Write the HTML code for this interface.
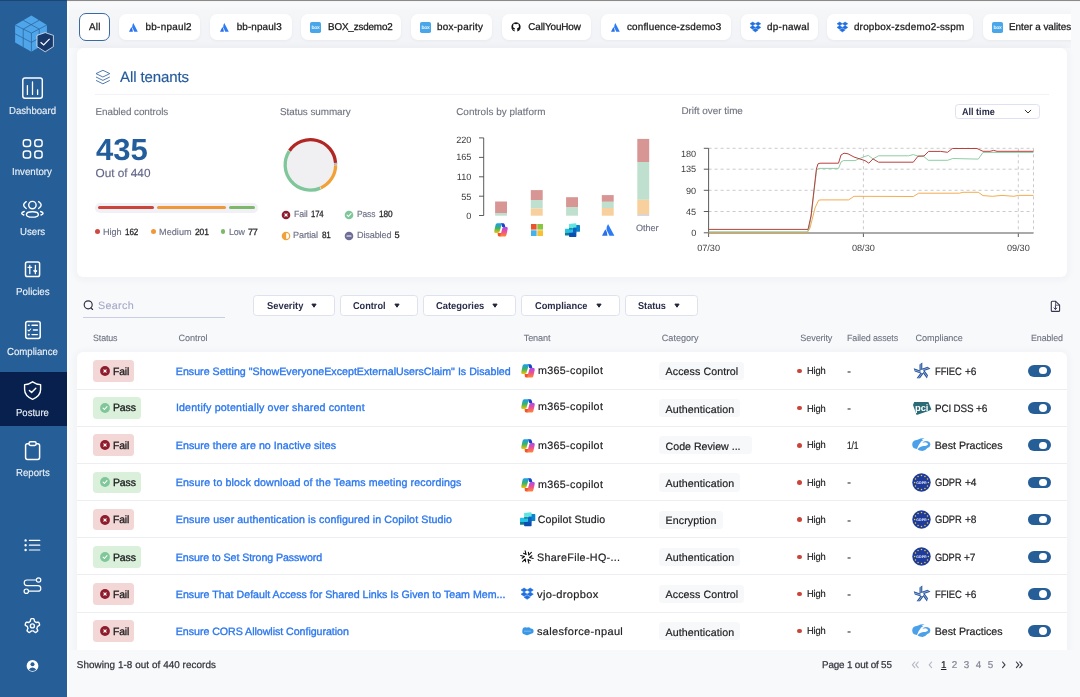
<!DOCTYPE html>
<html lang="en"><head><meta charset="utf-8"><title>Posture</title>
<style>
html,body{margin:0;padding:0}
body{width:1080px;height:697px;overflow:hidden;position:relative;background:#f8f9fb;font-family:"Liberation Sans",sans-serif;text-rendering:geometricPrecision;}
.a{position:absolute;box-sizing:border-box}
.t{position:absolute;white-space:nowrap}
svg{position:absolute;overflow:visible}
.tab{background:#fff;border-radius:7px;box-shadow:0 1px 3px rgba(30,40,80,.05)}
.card{background:#fff;box-shadow:0 1px 7px 2px rgba(30,40,80,.04)}
.fb{background:#fff;border:1px solid #e0e1ef;border-radius:3.5px}

</style></head>
<body>
<div class="a" style="left:69px;top:2px;width:1002px;height:46px;background:linear-gradient(#f9fafb 0%,#f5f6f8 22%,#f3f4f7 60%,#f3f4f7 100%)"></div>
<div class="a" style="left:0px;top:0px;width:67px;height:697px;background:#265e97;"></div>
<div class="a" style="left:67px;top:0px;width:2px;height:697px;background:#fbfcfd;"></div>
<div class="a" style="left:0px;top:372px;width:67px;height:54px;background:#07204e;"></div>
<div class="a" style="left:0px;top:0px;width:67px;height:1px;background:#1c456f;"></div>
<div class="a" style="left:67px;top:0px;width:1013px;height:1px;background:#8a8a8a;"></div>
<div class="a" style="left:67px;top:1px;width:1013px;height:1px;background:#f4f4f5;"></div>
<div class="t" style="top:107px;font-size:10.2px;line-height:10.2px;color:#f1f5fa;transform:scaleX(0.9428);transform-origin:0 0;left:8.95px;-webkit-text-stroke:0.1px currentColor;">Dashboard</div>
<div class="t" style="top:168px;font-size:10.2px;line-height:10.2px;color:#f1f5fa;transform:scaleX(0.9530);transform-origin:0 0;left:12.2px;-webkit-text-stroke:0.1px currentColor;">Inventory</div>
<div class="t" style="top:228px;font-size:10.2px;line-height:10.2px;color:#f1f5fa;transform:scaleX(0.9468);transform-origin:0 0;left:20.05px;-webkit-text-stroke:0.1px currentColor;">Users</div>
<div class="t" style="top:288px;font-size:10.2px;line-height:10.2px;color:#f1f5fa;transform:scaleX(0.9597);transform-origin:0 0;left:15.8px;-webkit-text-stroke:0.1px currentColor;">Policies</div>
<div class="t" style="top:348px;font-size:10.2px;line-height:10.2px;color:#f1f5fa;transform:scaleX(0.9459);transform-origin:0 0;left:7.0px;-webkit-text-stroke:0.1px currentColor;">Compliance</div>
<div class="t" style="top:409px;font-size:10.2px;line-height:10.2px;color:#f1f5fa;transform:scaleX(0.9367);transform-origin:0 0;left:16.0px;-webkit-text-stroke:0.1px currentColor;">Posture</div>
<div class="t" style="top:469px;font-size:10.2px;line-height:10.2px;color:#f1f5fa;transform:scaleX(0.9444);transform-origin:0 0;left:15.8px;-webkit-text-stroke:0.1px currentColor;">Reports</div>
<svg style="left:14px;top:14px" width="42" height="40" viewBox="14 14 42 40">
<polygon points="31.4,15.5 46.9,25 46.9,42.6 31.4,51.7 15.1,42.6 15.1,25" fill="#4fa5ea"/>
<g stroke="#265e97" stroke-width="0.7" fill="none">
<path d="M15.1 25 L31.4 33.1 L46.9 25 M31.4 33.1 V51.7"/>
<path d="M23.2 20.2 L39.2 29.1 V47.2 M39.2 20.2 L23.2 29.1 V47.2"/>
<path d="M15.1 33.8 L31.4 42.4 L46.9 33.8"/>
</g>
<path d="M45.2 32.6 L53.4 35.4 V46.6 L45.2 51.8 L37 46.6 V35.4 Z" fill="#17386a" stroke="#e8eef6" stroke-width="0.8"/>
<path d="M40.6 42.2 L43.7 45 L49.6 38.8" fill="none" stroke="#fff" stroke-width="1.2"/>
</svg>
<svg style="left:21px;top:77px" width="23" height="23" viewBox="21 77 23 23" fill="none" stroke="#fff" stroke-width="1.45" stroke-linecap="round">
<rect x="22.8" y="78" width="19.5" height="20.2" rx="2.2"/>
<path d="M27.4 85.6 V94.4 M32.5 82 V94.4 M37.6 89.8 V94.4" stroke-width="1.3"/>
</svg>
<svg style="left:21px;top:138px" width="23" height="23" viewBox="21 138 23 23" fill="none" stroke="#fff" stroke-width="1.45">
<rect x="23.3" y="139.8" width="7.3" height="6.7" rx="2.5"/>
<rect x="34.8" y="139.8" width="7.3" height="6.7" rx="2.5"/>
<rect x="23.3" y="151" width="7.3" height="6.9" rx="2.5"/>
<rect x="34.8" y="151" width="7.3" height="6.9" rx="2.5"/>
</svg>
<svg style="left:20px;top:199px" width="25" height="20" viewBox="20 199 25 20" fill="none" stroke="#fff" stroke-width="1.4" stroke-linecap="round">
<circle cx="32.4" cy="205.1" r="3.7"/>
<ellipse cx="32.4" cy="214.4" rx="6" ry="2.7"/>
<path d="M26.2 201.7 Q21 205.1 26.2 208.5"/>
<path d="M38.6 201.7 Q43.8 205.1 38.6 208.5"/>
<path d="M24.2 211.5 Q19.4 213.2 23.8 215"/>
<path d="M40.6 211.5 Q45.4 213.2 41 215"/>
</svg>
<svg style="left:24px;top:260px" width="18" height="18" viewBox="24 260 18 18" fill="none" stroke="#fff" stroke-width="1.5" stroke-linecap="round" stroke-linejoin="round">
<rect x="25.5" y="262" width="14.1" height="14.5" rx="1.8"/>
<path d="M29.8 265.4 V273.7 M28 267.3 H31.6" stroke-width="1.3"/>
<path d="M35.4 265.4 V273.7" stroke-width="1.3"/>
<path d="M33.7 271 L35.4 272.4 L37.1 271 L35.4 270.2 Z" fill="#fff" stroke-width="0.9"/>
</svg>
<svg style="left:24px;top:320px" width="18" height="20" viewBox="24 320 18 20" fill="none" stroke="#fff" stroke-width="1.5" stroke-linecap="round" stroke-linejoin="round">
<rect x="25.7" y="321.4" width="14.5" height="17" rx="1.9"/>
<path d="M32 325.2 H37.4 M33.4 330 H37.4 M32 334.6 H37.4" stroke-width="1.4"/>
<path d="M28.5 325.2 H29.1 M28.5 334.6 H29.1" stroke-width="1.6"/>
<path d="M28 330.1 L29 331 L30.7 329" stroke-width="1.1"/>
</svg>
<svg style="left:23px;top:380px" width="20" height="21" viewBox="23 380 20 21" fill="none" stroke="#fff" stroke-width="1.4" stroke-linecap="round" stroke-linejoin="round">
<path d="M32.6 381.8 Q36.4 384.4 40.6 384.6 V389.6 Q40.6 396 32.6 399.4 Q24.6 396 24.6 389.6 V384.6 Q28.8 384.4 32.6 381.8 Z"/>
<path d="M29.4 390.4 L31.6 392.6 L35.8 388.2"/>
</svg>
<svg style="left:24px;top:440px" width="18" height="21" viewBox="24 440 18 21" fill="none" stroke="#fff" stroke-width="1.5" stroke-linejoin="round">
<path d="M29 443.8 H27.4 Q25.6 443.8 25.6 445.6 V457.6 Q25.6 459.4 27.4 459.4 H37.8 Q39.6 459.4 39.6 457.6 V445.6 Q39.6 443.8 37.8 443.8 H36.2"/>
<rect x="29" y="441.8" width="7.2" height="3.6" rx="1.6"/>
</svg>
<svg style="left:24px;top:538px" width="18" height="14" viewBox="24 538 18 14" fill="#fff" stroke="#fff" stroke-width="1.2" stroke-linecap="round">
<path d="M29.4 540.4 H39.8 M29.4 545.2 H39.8 M29.4 550 H39.8"/>
<circle cx="25.6" cy="540.4" r="0.6"/><circle cx="25.6" cy="545.2" r="0.6"/><circle cx="25.6" cy="550" r="0.6"/>
</svg>
<svg style="left:23px;top:576px" width="20" height="19" viewBox="23 576 20 19" fill="none" stroke="#fff" stroke-width="1.2" stroke-linecap="round">
<circle cx="38.6" cy="580" r="2.2"/>
<circle cx="26.3" cy="591.2" r="2.2"/>
<path d="M36.4 580 H27 A2.8 2.8 0 0 0 27 585.6 H38 A2.8 2.8 0 0 1 38 591.2 H28.5"/>
</svg>
<svg style="left:24px;top:617px" width="18" height="18" viewBox="24 617 18 18" fill="none" stroke="#fff" stroke-width="1.4" stroke-linejoin="round">
<path d="M32.40 618.60 L33.16 618.64 L33.89 618.87 L34.30 620.05 L34.48 621.23 L34.90 621.57 L35.34 621.85 L35.75 622.18 L36.20 622.48 L37.38 622.29 L38.62 622.31 L39.07 622.93 L39.34 623.64 L39.54 624.38 L39.55 625.15 L38.55 625.90 L37.49 626.43 L37.29 626.94 L37.16 627.45 L36.97 627.93 L36.83 628.46 L37.38 629.51 L37.74 630.71 L37.28 631.32 L36.69 631.81 L36.05 632.22 L35.32 632.46 L34.30 631.75 L33.46 630.90 L32.92 630.87 L32.40 630.90 L31.88 630.87 L31.34 630.90 L30.50 631.75 L29.48 632.46 L28.75 632.22 L28.11 631.81 L27.52 631.32 L27.06 630.71 L27.42 629.51 L27.97 628.46 L27.83 627.93 L27.64 627.45 L27.51 626.94 L27.31 626.43 L26.25 625.90 L25.25 625.15 L25.26 624.38 L25.46 623.64 L25.73 622.93 L26.18 622.31 L27.42 622.29 L28.60 622.48 L29.05 622.18 L29.46 621.85 L29.90 621.57 L30.32 621.23 L30.50 620.05 L30.91 618.87 L31.64 618.64 Z"/>
<circle cx="32.4" cy="625.9" r="2"/>
</svg>
<svg style="left:26px;top:659px" width="14" height="14" viewBox="26 659 14 14">
<circle cx="32.5" cy="665.9" r="5.9" fill="#fff"/>
<circle cx="32.5" cy="664.2" r="2" fill="#265e97"/>
<path d="M28.8 669.4 Q32.5 665.4 36.2 669.4 Q32.5 672.6 28.8 669.4 Z" fill="#265e97"/>
</svg>
<div class="a" style="left:79px;top:13.4px;width:31.200000000000003px;height:27.2px;background:#fff;border-radius:7px;border:1px solid #3a6aa5;"></div>
<div class="t" style="top:23px;font-size:9.9px;line-height:9.9px;color:#1c1c1e;letter-spacing:0.160px;left:89.1px;-webkit-text-stroke:0.28px currentColor;">All</div>
<div class="a tab" style="left:119px;top:14px;width:81.4px;height:26px"></div>
<svg style="left:129.1px;top:22.75px" width="8.8" height="8.7" viewBox="0 0 8.8 8.7">
<path d="M4.3 0 L8.8 8.7 H5.3 L3.2 4.2 Q3.0 2.2 4.3 0 Z" fill="#2b7bf5"/>
<path d="M2.4 3.9 Q3.9 6 3.9 8.7 H0 Z" fill="#2a6fe6"/>
</svg>
<div class="t" style="top:23px;font-size:9.9px;line-height:9.9px;color:#1c1c1e;letter-spacing:0.258px;left:145.6px;-webkit-text-stroke:0.28px currentColor;">bb-npaul2</div>
<div class="a tab" style="left:210px;top:14px;width:81.80000000000001px;height:26px"></div>
<svg style="left:220.2px;top:22.75px" width="8.8" height="8.7" viewBox="0 0 8.8 8.7">
<path d="M4.3 0 L8.8 8.7 H5.3 L3.2 4.2 Q3.0 2.2 4.3 0 Z" fill="#2b7bf5"/>
<path d="M2.4 3.9 Q3.9 6 3.9 8.7 H0 Z" fill="#2a6fe6"/>
</svg>
<div class="t" style="top:23px;font-size:9.9px;line-height:9.9px;color:#1c1c1e;letter-spacing:0.133px;left:236.7px;-webkit-text-stroke:0.28px currentColor;">bb-npaul3</div>
<div class="a tab" style="left:301px;top:14px;width:100.19999999999999px;height:26px"></div>
<svg style="left:310.3px;top:21.5px" width="11" height="11" viewBox="0 0 11 11">
<rect width="11" height="11" rx="1.8" fill="#48a6e9"/>
<text x="5.5" y="7.1" font-family="Liberation Sans, sans-serif" font-size="5" font-weight="700" fill="#e9f4fc" text-anchor="middle" letter-spacing="-0.3">box</text>
</svg>
<div class="t" style="top:23px;font-size:9.9px;line-height:9.9px;color:#1c1c1e;letter-spacing:-0.148px;transform:scaleX(0.9963);transform-origin:0 0;left:327.5px;-webkit-text-stroke:0.28px currentColor;">BOX_zsdemo2</div>
<div class="a tab" style="left:411px;top:14px;width:81.30000000000001px;height:26px"></div>
<svg style="left:420px;top:21.5px" width="11" height="11" viewBox="0 0 11 11">
<rect width="11" height="11" rx="1.8" fill="#48a6e9"/>
<text x="5.5" y="7.1" font-family="Liberation Sans, sans-serif" font-size="5" font-weight="700" fill="#e9f4fc" text-anchor="middle" letter-spacing="-0.3">box</text>
</svg>
<div class="t" style="top:23px;font-size:9.9px;line-height:9.9px;color:#1c1c1e;letter-spacing:0.287px;left:437.0px;-webkit-text-stroke:0.28px currentColor;">box-parity</div>
<div class="a tab" style="left:502px;top:14px;width:89px;height:26px"></div>
<svg style="left:511.29999999999995px;top:21.9px" width="10" height="10" viewBox="-5 -5 10 10">
<path d="M-1.3 4.5 A4.7 4.7 0 1 1 1.3 4.5 V2.6 Q1.3 1.9 0.9 1.6 Q3 1.3 3 -0.7 Q3 -1.5 2.5 -2.1 Q2.7 -2.8 2.4 -3.4 Q1.7 -3.4 1.0 -2.8 Q0 -3.05 -1.0 -2.8 Q-1.7 -3.4 -2.4 -3.4 Q-2.7 -2.8 -2.5 -2.1 Q-3 -1.5 -3 -0.7 Q-3 1.3 -0.9 1.6 Q-1.3 1.9 -1.3 2.5 Q-2.4 2.9 -2.9 1.9 Q-3.2 1.5 -3.5 1.5 Q-3.1 1.9 -2.9 2.6 Q-2.5 3.5 -1.3 3.3 Z" fill="#111"/>
</svg>
<div class="t" style="top:23px;font-size:9.9px;line-height:9.9px;color:#1c1c1e;letter-spacing:-0.100px;left:528.3px;-webkit-text-stroke:0.28px currentColor;">CallYouHow</div>
<div class="a tab" style="left:600.6px;top:14px;width:130.60000000000002px;height:26px"></div>
<svg style="left:610.7px;top:22.75px" width="8.8" height="8.7" viewBox="0 0 8.8 8.7">
<path d="M4.3 0 L8.8 8.7 H5.3 L3.2 4.2 Q3.0 2.2 4.3 0 Z" fill="#2b7bf5"/>
<path d="M2.4 3.9 Q3.9 6 3.9 8.7 H0 Z" fill="#2a6fe6"/>
</svg>
<div class="t" style="top:23px;font-size:9.9px;line-height:9.9px;color:#1c1c1e;letter-spacing:0.192px;left:626.9px;-webkit-text-stroke:0.28px currentColor;">confluence-zsdemo3</div>
<div class="a tab" style="left:740.8px;top:14px;width:77.20000000000005px;height:26px"></div>
<svg style="left:749.70px;top:21.85px" width="10.80" height="10.30" viewBox="0 0 10.8 10.3" fill="#1f6fe0">
<path d="M2.7 0 L5.4 1.8 L2.7 3.6 L0 1.8 Z M8.1 0 L10.8 1.8 L8.1 3.6 L5.4 1.8 Z M2.7 3.6 L5.4 5.4 L2.7 7.2 L0 5.4 Z M8.1 3.6 L10.8 5.4 L8.1 7.2 L5.4 5.4 Z M5.4 6.3 L8.1 8.1 L5.4 9.9 L2.7 8.1 Z" stroke="#1f6fe0" stroke-width="0.5" stroke-linejoin="round"/>
</svg>
<div class="t" style="top:23px;font-size:9.9px;line-height:9.9px;color:#1c1c1e;letter-spacing:0.297px;transform:scaleX(1.0010);transform-origin:0 0;left:766.9px;-webkit-text-stroke:0.28px currentColor;">dp-nawal</div>
<div class="a tab" style="left:827.3px;top:14px;width:146.0px;height:26px"></div>
<svg style="left:836.50px;top:21.85px" width="10.80" height="10.30" viewBox="0 0 10.8 10.3" fill="#1f6fe0">
<path d="M2.7 0 L5.4 1.8 L2.7 3.6 L0 1.8 Z M8.1 0 L10.8 1.8 L8.1 3.6 L5.4 1.8 Z M2.7 3.6 L5.4 5.4 L2.7 7.2 L0 5.4 Z M8.1 3.6 L10.8 5.4 L8.1 7.2 L5.4 5.4 Z M5.4 6.3 L8.1 8.1 L5.4 9.9 L2.7 8.1 Z" stroke="#1f6fe0" stroke-width="0.5" stroke-linejoin="round"/>
</svg>
<div class="t" style="top:23px;font-size:9.9px;line-height:9.9px;color:#1c1c1e;letter-spacing:0.232px;left:853.9px;-webkit-text-stroke:0.28px currentColor;">dropbox-zsdemo2-sspm</div>
<div class="a" style="left:975px;top:8px;width:96px;height:38px;overflow:hidden">
<div class="a tab" style="left:7.8px;top:6px;width:120px;height:26px"></div>
<svg style="left:16.6px;top:13.5px" width="11" height="11" viewBox="0 0 11 11">
<rect width="11" height="11" rx="1.8" fill="#48a6e9"/>
<text x="5.5" y="7.1" font-family="Liberation Sans, sans-serif" font-size="5" font-weight="700" fill="#e9f4fc" text-anchor="middle" letter-spacing="-0.3">box</text>
</svg>
<div class="t" style="top:15px;font-size:9.9px;line-height:9.9px;color:#1c1c1e;letter-spacing:-0.024px;left:34.0px;-webkit-text-stroke:0.28px currentColor;">Enter a valites</div>
</div>
<div class="a card" style="left:77px;top:48px;width:990.4px;height:229px;border-radius:6px"></div>
<svg style="left:95px;top:69px" width="16" height="16" viewBox="95 69 16 16" fill="none" stroke="#3d6ca8" stroke-width="0.9" stroke-linejoin="round">
<path d="M102.9 70.3 L109.8 73.6 L102.9 77 L96 73.6 Z"/>
<path d="M96 77 L102.9 80.4 L109.8 77"/>
<path d="M96 80.4 L102.9 83.8 L109.8 80.4"/>
</svg>
<div class="t" style="top:70px;font-size:15px;line-height:15px;color:#245a9a;letter-spacing:-0.114px;left:120.1px;-webkit-text-stroke:0.15px currentColor;">All tenants</div>
<div class="a" style="left:95px;top:93.8px;width:954px;height:1.2px;background:#f1f2f5;"></div>
<div class="t" style="top:108px;font-size:9.9px;line-height:9.9px;color:#70737f;letter-spacing:-0.055px;left:95.5px;-webkit-text-stroke:0.12px currentColor;">Enabled controls</div>
<div class="t" style="top:108px;font-size:9.9px;line-height:9.9px;color:#70737f;letter-spacing:-0.046px;left:280.0px;-webkit-text-stroke:0.12px currentColor;">Status summary</div>
<div class="t" style="top:108px;font-size:9.9px;line-height:9.9px;color:#70737f;letter-spacing:0.051px;left:456.2px;-webkit-text-stroke:0.12px currentColor;">Controls by platform</div>
<div class="t" style="top:107px;font-size:9.9px;line-height:9.9px;color:#70737f;left:681.4px;-webkit-text-stroke:0.12px currentColor;">Drift over time</div>
<div class="t" style="top:135px;font-size:30.4px;line-height:30.4px;color:#245d9b;font-weight:700;transform:scaleX(1.0235);transform-origin:0 0;left:96.2px;">435</div>
<div class="t" style="top:168px;font-size:11.8px;line-height:11.8px;color:#626588;letter-spacing:-0.014px;left:95.5px;-webkit-text-stroke:0.12px currentColor;">Out of 440</div>
<div class="a" style="left:95.1px;top:203.1px;width:163px;height:9.7px;background:#f0f0f6;border-radius:5px;"></div>
<div class="a" style="left:97.9px;top:206.4px;width:55.8px;height:3px;background:#c9453a;border-radius:2px;"></div>
<div class="a" style="left:156.8px;top:206.4px;width:68.9px;height:3px;background:#f0973a;border-radius:2px;"></div>
<div class="a" style="left:228.9px;top:206.4px;width:26.2px;height:3px;background:#7cb868;border-radius:2px;"></div>
<div class="a" style="left:95.0px;top:229.0px;width:4.8px;height:4.8px;background:#cc4a40;border-radius:3px;"></div>
<div class="t" style="top:228px;font-size:9.15px;line-height:9.15px;color:#6d7085;letter-spacing:-0.097px;left:103.0px;-webkit-text-stroke:0.15px currentColor;">High</div>
<div class="t" style="top:228px;font-size:9.15px;line-height:9.15px;color:#2a2a2e;letter-spacing:-0.137px;transform:scaleX(0.8874);transform-origin:0 0;left:125.0px;-webkit-text-stroke:0.3px currentColor;">162</div>
<div class="a" style="left:150.9px;top:229.0px;width:4.8px;height:4.8px;background:#f0973a;border-radius:3px;"></div>
<div class="t" style="top:228px;font-size:9.15px;line-height:9.15px;color:#6d7085;letter-spacing:0.029px;left:159.0px;-webkit-text-stroke:0.15px currentColor;">Medium</div>
<div class="t" style="top:228px;font-size:9.15px;line-height:9.15px;color:#2a2a2e;letter-spacing:-0.137px;transform:scaleX(0.9277);transform-origin:0 0;left:194.6px;-webkit-text-stroke:0.3px currentColor;">201</div>
<div class="a" style="left:220.6px;top:229.0px;width:4.8px;height:4.8px;background:#7cb868;border-radius:3px;"></div>
<div class="t" style="top:228px;font-size:9.15px;line-height:9.15px;color:#6d7085;letter-spacing:-0.137px;transform:scaleX(0.9718);transform-origin:0 0;left:228.6px;-webkit-text-stroke:0.15px currentColor;">Low</div>
<div class="t" style="top:228px;font-size:9.15px;line-height:9.15px;color:#2a2a2e;letter-spacing:-0.137px;transform:scaleX(0.9861);transform-origin:0 0;left:248.2px;-webkit-text-stroke:0.3px currentColor;">77</div>
<svg style="left:280px;top:135px" width="60" height="60" viewBox="280 135 60 60"><circle cx="310.4" cy="164.9" r="24.4" fill="#f0f0f3"/><path d="M335.65 165.16 A25.25 25.25 0 0 1 320.80 187.91" stroke="#f0a238" stroke-width="3.3" fill="none"/><path d="M320.32 188.12 A25.25 25.25 0 0 1 289.21 151.17" stroke="#7fc79a" stroke-width="3.3" fill="none"/><path d="M289.50 150.73 A25.25 25.25 0 0 1 335.57 162.84" stroke="#b02723" stroke-width="3.3" fill="none"/><path d="M335.60 163.36 A25.25 25.25 0 0 1 335.65 164.64" stroke="#8d8fb0" stroke-width="3.3" fill="none"/></svg>
<svg style="left:280.7px;top:209.5px" width="10" height="10" viewBox="-5 -5 10 10"><circle r="4.3" fill="#8e1c2c"/><path d="M-1.15 -1.15 L1.15 1.15 M1.15 -1.15 L-1.15 1.15" stroke="#fff" stroke-width="1.15" stroke-linecap="round"/></svg>
<div class="t" style="top:210px;font-size:9.15px;line-height:9.15px;color:#6d7085;letter-spacing:-0.137px;transform:scaleX(0.9674);transform-origin:0 0;left:293.6px;-webkit-text-stroke:0.15px currentColor;">Fail</div>
<div class="t" style="top:210px;font-size:9.15px;line-height:9.15px;color:#2a2a2e;letter-spacing:-0.137px;transform:scaleX(0.8470);transform-origin:0 0;left:311.0px;-webkit-text-stroke:0.3px currentColor;">174</div>
<svg style="left:343.8px;top:209.5px" width="10" height="10" viewBox="-5 -5 10 10"><circle r="4.3" fill="#7fc79a"/><path d="M-1.9 0.1 L-0.6 1.5 L2 -1.3" stroke="#fff" stroke-width="1.1" fill="none" stroke-linecap="round" stroke-linejoin="round"/></svg>
<div class="t" style="top:210px;font-size:9.15px;line-height:9.15px;color:#6d7085;letter-spacing:-0.137px;transform:scaleX(0.9256);transform-origin:0 0;left:356.6px;-webkit-text-stroke:0.15px currentColor;">Pass</div>
<div class="t" style="top:210px;font-size:9.15px;line-height:9.15px;color:#2a2a2e;letter-spacing:-0.137px;transform:scaleX(0.9075);transform-origin:0 0;left:379.0px;-webkit-text-stroke:0.3px currentColor;">180</div>
<svg style="left:280.5px;top:230.7px" width="10" height="10" viewBox="-5 -5 10 10"><circle r="4.3" fill="#f0a238"/><path d="M0.2 -2.9 A2.9 2.9 0 0 1 0.2 2.9 Z" fill="#fff"/></svg>
<div class="t" style="top:231px;font-size:9.15px;line-height:9.15px;color:#6d7085;letter-spacing:-0.137px;transform:scaleX(0.9994);transform-origin:0 0;left:293.0px;-webkit-text-stroke:0.15px currentColor;">Partial</div>
<div class="t" style="top:231px;font-size:9.15px;line-height:9.15px;color:#2a2a2e;letter-spacing:-0.137px;transform:scaleX(0.8855);transform-origin:0 0;left:321.6px;-webkit-text-stroke:0.3px currentColor;">81</div>
<svg style="left:343.8px;top:230.7px" width="10" height="10" viewBox="-5 -5 10 10"><circle r="4.3" fill="#6f6d97"/><path d="M-2 0 H2" stroke="#fff" stroke-width="1.2" stroke-linecap="round"/></svg>
<div class="t" style="top:231px;font-size:9.15px;line-height:9.15px;color:#6d7085;letter-spacing:-0.137px;transform:scaleX(0.9979);transform-origin:0 0;left:356.6px;-webkit-text-stroke:0.15px currentColor;">Disabled</div>
<div class="t" style="top:231px;font-size:9.15px;line-height:9.15px;color:#2a2a2e;left:394.6px;-webkit-text-stroke:0.3px currentColor;">5</div>
<svg style="left:450px;top:130px" width="220" height="115" viewBox="450 130 220 115"><path d="M483.7 137.9 V215.6 M479 137.9 H483.7 M479 157.4 H483.7 M479 176.8 H483.7 M479 196.2 H483.7 M479 215.5 H483.7" stroke="#4a4a4a" stroke-width="0.9" fill="none"/><rect x="495.1" y="201.5" width="11.9" height="11.50" fill="#d79593"/><rect x="495.1" y="213" width="11.9" height="2.70" fill="#bfe0ce"/><rect x="530.8" y="190.1" width="11.9" height="9.90" fill="#d79593"/><rect x="530.8" y="200" width="11.9" height="8.50" fill="#bfe0ce"/><rect x="530.8" y="208.5" width="11.9" height="7.20" fill="#f8d09d"/><rect x="566.1" y="197.2" width="11.9" height="9.80" fill="#d79593"/><rect x="566.1" y="207" width="11.9" height="8.70" fill="#bfe0ce"/><rect x="601.8" y="195.1" width="11.9" height="6.70" fill="#d79593"/><rect x="601.8" y="201.8" width="11.9" height="6.20" fill="#bfe0ce"/><rect x="601.8" y="208" width="11.9" height="7.70" fill="#f8d09d"/><rect x="637.3" y="138.9" width="11.9" height="23.10" fill="#d79593"/><rect x="637.3" y="162" width="11.9" height="37.80" fill="#bfe0ce"/><rect x="637.3" y="199.8" width="11.9" height="14.60" fill="#f8d09d"/><rect x="637.3" y="214.4" width="11.9" height="1.30" fill="#c6c6ce"/></svg>
<div class="t" style="top:136px;font-size:9.15px;line-height:9.15px;color:#3c3c40;right:608.6px;">220</div>
<div class="t" style="top:153px;font-size:9.15px;line-height:9.15px;color:#3c3c40;right:608.6px;">165</div>
<div class="t" style="top:173px;font-size:9.15px;line-height:9.15px;color:#3c3c40;right:608.6px;">110</div>
<div class="t" style="top:193px;font-size:9.15px;line-height:9.15px;color:#3c3c40;right:608.6px;">55</div>
<div class="t" style="top:212px;font-size:9.15px;line-height:9.15px;color:#3c3c40;right:608.6px;">0</div>
<div class="t" style="top:224px;font-size:9.15px;line-height:9.15px;color:#6d7085;letter-spacing:-0.096px;left:636.0px;-webkit-text-stroke:0.15px currentColor;">Other</div>
<svg style="left:494.00px;top:222.70px" width="14" height="14" viewBox="0 0 14 14">
<defs><linearGradient id="cpa1" x1="0" y1="0" x2="0" y2="1"><stop offset="0" stop-color="#1d9cf3"/><stop offset="0.5" stop-color="#36b36a"/><stop offset="1" stop-color="#f2c300"/></linearGradient>
<linearGradient id="cpb1" x1="0" y1="0" x2="0" y2="1"><stop offset="0" stop-color="#a64cf0"/><stop offset="0.5" stop-color="#ee5091"/><stop offset="1" stop-color="#ff8a2a"/></linearGradient></defs>
<path d="M6.6 0.3 H9.2 Q10.2 0.3 10.6 1.3 L11.4 4 H8.2 L7.4 1.4 Z" fill="#1745c8"/>
<path d="M3.2 0.3 H7 Q8 0.3 7.6 1.6 L5.6 8.6 Q5.2 9.9 4 9.9 H1.4 Q-0.1 9.9 0.3 8 L1.6 1.8 Q2 0.3 3.2 0.3 Z" fill="url(#cpa1)"/>
<path d="M3.6 9.9 H7 L7.6 12.6 Q7.4 13.6 6.4 13.6 H5.2 Q4.2 13.6 3.9 12.6 Z" fill="#f2542a"/>
<path d="M9.6 4 H12.6 Q14.1 4 13.7 5.9 L12.4 12.1 Q12 13.6 10.8 13.6 H7 Q6 13.6 6.4 12.3 L8.4 5.3 Q8.8 4 9.6 4 Z" fill="url(#cpb1)"/>
</svg>
<svg style="left:530.80px;top:223.50px" width="12" height="12" viewBox="0 0 12 12">
<rect x="0" y="0" width="5.6" height="5.6" fill="#e9542c"/><rect x="6.3" y="0" width="5.7" height="5.6" fill="#8cc540"/>
<rect x="0" y="6.3" width="5.6" height="5.7" fill="#47b1e9"/><rect x="6.3" y="6.3" width="5.7" height="5.7" fill="#f8c133"/></svg>
<svg style="left:564.90px;top:222.64px" width="15" height="14.12" viewBox="0 0 15.3 14.4">
<rect x="0" y="9.4" width="5" height="3.4" rx="0.6" fill="#0f7c95"/>
<rect x="8.4" y="2" width="6.9" height="7" rx="0.7" fill="#0a83cd"/>
<rect x="4.1" y="9.2" width="7.5" height="5" rx="0.7" fill="#0a4fb0"/>
<rect x="7.6" y="5.2" width="4" height="5" fill="#0b62c0"/>
<rect x="0" y="5.8" width="7.8" height="4.2" rx="0.6" fill="#22c2e6"/>
<rect x="4.1" y="4.6" width="3.8" height="2.2" fill="#1493a8"/>
<path d="M4.1 0.9 L11 0.2 Q11.6 0.2 11.6 0.9 V4.6 H4.1 Z" fill="#5fe6e0"/>
</svg>
<svg style="left:601.80px;top:223.70px" width="12.4" height="11.8" viewBox="0 0 8.8 8.7" preserveAspectRatio="none">
<path d="M4.3 0 L8.8 8.7 H5.3 L3.2 4.2 Q3.0 2.2 4.3 0 Z" fill="#2b7bf5"/>
<path d="M2.4 3.9 Q3.9 6 3.9 8.7 H0 Z" fill="#2a6fe6"/>
</svg>
<svg style="left:700px;top:140px" width="340" height="100" viewBox="700 140 340 100" fill="none"><g stroke="#bdbdbd" stroke-width="0.8" stroke-dasharray="3 3"><path d="M708.6 148.3 H1033.5"/><path d="M708.6 169.2 H1033.5"/><path d="M708.6 190.3 H1033.5"/><path d="M708.6 211.5 H1033.5"/><path d="M863.4 148.3 V232.8"/><path d="M1018.3 148.3 V232.8"/><path d="M1033.5 148.3 V232.8"/></g><path d="M708.6 148.3 V237 M703.8 148.3 H708.6 M703.8 169.2 H708.6 M703.8 190.3 H708.6 M703.8 211.5 H708.6 M703.8 232.8 H708.6 M863.4 232.8 V237 M1018.3 232.8 V237" stroke="#4a4a4a" stroke-width="0.9"/><path d="M708.6 233 H1033.5" stroke="#8e8e8e" stroke-width="1.7"/><polyline points="708.6,233 807,233 810,228 815,208 818.6,200.2 821,199.9 848.7,199.9 854,196.3 913.3,196.5 918.7,193.2 959.4,193.2 963,192.3 978.3,192.3 983,195.6 992.5,196.3 1002,195.4 1013.8,196.3 1018.6,195.4 1033.5,195.4" stroke="#f2a33c" stroke-width="0.9" stroke-linejoin="round"/><polyline points="708.6,231.8 807,231.8 809,229 811.2,216 816.6,170 818.4,168.5 820,168.4 838.5,168.4 841,162 843.5,160.6 855,160.6 860,158.4 865,156.4 868.3,155.4 873,158.9 878.5,155.8 908.5,155.8 913.3,154.6 918,156.1 923.4,156.1 928.2,160.3 947.6,160.3 952.8,158.5 978.3,159.1 983,152.4 1033.5,152.4" stroke="#82c79b" stroke-width="0.9" stroke-linejoin="round"/><polyline points="708.6,229.4 808,229.4 811,216 816.4,169 818,163.8 820,163.2 838.5,163.2 841,155 844,153.2 848,153.8 854,157 860,159 865,160.6 868.8,163.2 873,158.9 878.5,162.2 913.3,162.2 918,156.2 924,156 928.6,151.4 940.5,151.4 947.6,152.3 952.3,148.5 977,148.5 983,151.3 990,151.3 993.7,150.4 997,151.3 1033.5,151.3" stroke="#b9403d" stroke-width="1.0" stroke-linejoin="round"/></svg>
<div class="t" style="top:150px;font-size:9.15px;line-height:9.15px;color:#3c3c40;right:383.8px;">180</div>
<div class="t" style="top:165px;font-size:9.15px;line-height:9.15px;color:#3c3c40;right:383.8px;">135</div>
<div class="t" style="top:187px;font-size:9.15px;line-height:9.15px;color:#3c3c40;right:383.8px;">90</div>
<div class="t" style="top:208px;font-size:9.15px;line-height:9.15px;color:#3c3c40;right:383.8px;">45</div>
<div class="t" style="top:229px;font-size:9.15px;line-height:9.15px;color:#3c3c40;right:383.8px;">0</div>
<div class="t" style="top:244px;font-size:9.15px;line-height:9.15px;color:#3c3c40;left:508.6px;width:400px;text-align:center;">07/30</div>
<div class="t" style="top:244px;font-size:9.15px;line-height:9.15px;color:#3c3c40;left:663.4px;width:400px;text-align:center;">08/30</div>
<div class="t" style="top:244px;font-size:9.15px;line-height:9.15px;color:#3c3c40;left:818.3px;width:400px;text-align:center;">09/30</div>
<div class="a" style="left:954.6px;top:104px;width:85px;height:15px;background:#fff;border-radius:3.5px;border:1px solid #dfe0f2;"></div>
<div class="t" style="top:108px;font-size:9.9px;line-height:9.9px;color:#2a2e4a;font-weight:700;transform:scaleX(0.9178);transform-origin:0 0;left:961.6px;">All time</div>
<svg style="left:1022px;top:106px" width="12" height="12" viewBox="1022 106 12 12"><path d="M1025.2 110.2 L1028 113 L1030.8 110.2" fill="none" stroke="#333" stroke-width="1" stroke-linecap="round" stroke-linejoin="round"/></svg>
<svg style="left:82px;top:299px" width="13" height="13" viewBox="82 299 13 13" fill="none" stroke="#2d2f45" stroke-width="1.15" stroke-linecap="round"><circle cx="88.2" cy="304.8" r="4"/><path d="M91 307.8 L92.6 309.5"/></svg>
<div class="t" style="top:301px;font-size:10.65px;line-height:10.65px;color:#a6a9c9;letter-spacing:0.320px;transform:scaleX(1.0115);transform-origin:0 0;left:98.4px;-webkit-text-stroke:0.1px currentColor;">Search</div>
<div class="a" style="left:82.8px;top:316.8px;width:142.4px;height:1.3px;background:#cbcde2;"></div>
<div class="a fb" style="left:253.3px;top:295.2px;width:81.7px;height:21px"></div>
<div class="t" style="top:302px;font-size:9.9px;line-height:9.9px;color:#2a2e4a;font-weight:700;transform:scaleX(0.9477);transform-origin:0 0;left:266.5px;">Severity</div>
<svg style="left:311.1px;top:303.4px" width="6" height="5" viewBox="0 0 6 5"><path d="M0.9 1.1 H5.1 L3 4.2 Z" fill="#222638" stroke="#222638" stroke-width="1" stroke-linejoin="round"/></svg>
<div class="a fb" style="left:340.4px;top:295.2px;width:77.4px;height:21px"></div>
<div class="t" style="top:302px;font-size:9.9px;line-height:9.9px;color:#2a2e4a;font-weight:700;transform:scaleX(0.9276);transform-origin:0 0;left:353.2px;">Control</div>
<svg style="left:394.2px;top:303.4px" width="6" height="5" viewBox="0 0 6 5"><path d="M0.9 1.1 H5.1 L3 4.2 Z" fill="#222638" stroke="#222638" stroke-width="1" stroke-linejoin="round"/></svg>
<div class="a fb" style="left:423.2px;top:295.2px;width:93.3px;height:21px"></div>
<div class="t" style="top:302px;font-size:9.9px;line-height:9.9px;color:#2a2e4a;font-weight:700;transform:scaleX(0.9467);transform-origin:0 0;left:435.8px;">Categories</div>
<svg style="left:492.4px;top:303.4px" width="6" height="5" viewBox="0 0 6 5"><path d="M0.9 1.1 H5.1 L3 4.2 Z" fill="#222638" stroke="#222638" stroke-width="1" stroke-linejoin="round"/></svg>
<div class="a fb" style="left:521.3px;top:295.2px;width:98.5px;height:21px"></div>
<div class="t" style="top:302px;font-size:9.9px;line-height:9.9px;color:#2a2e4a;font-weight:700;transform:scaleX(0.9366);transform-origin:0 0;left:534.5px;">Compliance</div>
<svg style="left:595.6px;top:303.4px" width="6" height="5" viewBox="0 0 6 5"><path d="M0.9 1.1 H5.1 L3 4.2 Z" fill="#222638" stroke="#222638" stroke-width="1" stroke-linejoin="round"/></svg>
<div class="a fb" style="left:624.6px;top:295.2px;width:73.4px;height:21px"></div>
<div class="t" style="top:302px;font-size:9.9px;line-height:9.9px;color:#2a2e4a;font-weight:700;transform:scaleX(0.9255);transform-origin:0 0;left:637.6px;">Status</div>
<svg style="left:673.8px;top:303.4px" width="6" height="5" viewBox="0 0 6 5"><path d="M0.9 1.1 H5.1 L3 4.2 Z" fill="#222638" stroke="#222638" stroke-width="1" stroke-linejoin="round"/></svg>
<svg style="left:1048px;top:298px" width="14" height="16" viewBox="1048 298 14 16" fill="#fff" stroke="#33364d" stroke-width="1.1" stroke-linejoin="round" stroke-linecap="round">
<path d="M1055.6 301.3 H1052.3 Q1051.3 301.3 1051.3 302.3 V310.4 Q1051.3 311.4 1052.3 311.4 H1058.6 Q1059.6 311.4 1059.6 310.4 V305.2 Z"/>
<path d="M1055.6 301.3 V305.2 H1059.6" fill="none" stroke-width="0.8"/>
<path d="M1055.4 305.6 V309.2 M1053.9 308 L1055.4 309.4 L1056.9 308" fill="none" stroke-width="1"/>
</svg>
<div class="t" style="top:334px;font-size:9.15px;line-height:9.15px;color:#6f7280;letter-spacing:-0.137px;transform:scaleX(0.9758);transform-origin:0 0;left:92.6px;-webkit-text-stroke:0.1px currentColor;">Status</div>
<div class="t" style="top:334px;font-size:9.15px;line-height:9.15px;color:#6f7280;letter-spacing:-0.065px;left:178.5px;-webkit-text-stroke:0.1px currentColor;">Control</div>
<div class="t" style="top:334px;font-size:9.15px;line-height:9.15px;color:#6f7280;letter-spacing:-0.112px;left:523.7px;-webkit-text-stroke:0.1px currentColor;">Tenant</div>
<div class="t" style="top:334px;font-size:9.15px;line-height:9.15px;color:#6f7280;letter-spacing:-0.038px;left:661.8px;-webkit-text-stroke:0.1px currentColor;">Category</div>
<div class="t" style="top:334px;font-size:9.15px;line-height:9.15px;color:#6f7280;letter-spacing:-0.129px;left:800.3px;-webkit-text-stroke:0.1px currentColor;">Severity</div>
<div class="t" style="top:334px;font-size:9.15px;line-height:9.15px;color:#6f7280;letter-spacing:-0.137px;transform:scaleX(0.9819);transform-origin:0 0;left:846.7px;-webkit-text-stroke:0.1px currentColor;">Failed assets</div>
<div class="t" style="top:334px;font-size:9.15px;line-height:9.15px;color:#6f7280;letter-spacing:-0.101px;left:915.6px;-webkit-text-stroke:0.1px currentColor;">Compliance</div>
<div class="t" style="top:334px;font-size:9.15px;line-height:9.15px;color:#6f7280;letter-spacing:-0.137px;transform:scaleX(0.9788);transform-origin:0 0;left:1030.6px;-webkit-text-stroke:0.1px currentColor;">Enabled</div>
<div class="a" style="left:69px;top:340px;width:1011px;height:310px;overflow:hidden"><div class="a card" style="left:7.8px;top:12.2px;width:990.6px;height:320px;border-radius:6px 6px 0 0"></div></div>
<div class="a" style="left:93.1px;top:360.1px;width:40.9px;height:21.6px;background:#f3d6d6;border-radius:3.5px;"></div>
<svg style="left:100.1px;top:365.9px" width="10" height="10" viewBox="-5 -5 10 10"><circle r="4.9" fill="#8e1c2c"/><path d="M-1.15 -1.15 L1.15 1.15 M1.15 -1.15 L-1.15 1.15" stroke="#fff" stroke-width="1.15" stroke-linecap="round"/></svg>
<div class="t" style="top:367px;font-size:10.65px;line-height:10.65px;color:#1a1a1c;letter-spacing:-0.160px;transform:scaleX(0.9753);transform-origin:0 0;left:113.3px;-webkit-text-stroke:0.3px currentColor;">Fail</div>
<div class="t" style="top:367px;font-size:10.65px;line-height:10.65px;color:#2b77ee;letter-spacing:0.013px;left:175.8px;-webkit-text-stroke:0.33px currentColor;">Ensure Setting "ShowEveryoneExceptExternalUsersClaim" Is Disabled</div>
<svg style="left:520.90px;top:363.80px" width="14" height="14" viewBox="0 0 14 14">
<defs><linearGradient id="cpa2" x1="0" y1="0" x2="0" y2="1"><stop offset="0" stop-color="#1d9cf3"/><stop offset="0.5" stop-color="#36b36a"/><stop offset="1" stop-color="#f2c300"/></linearGradient>
<linearGradient id="cpb2" x1="0" y1="0" x2="0" y2="1"><stop offset="0" stop-color="#a64cf0"/><stop offset="0.5" stop-color="#ee5091"/><stop offset="1" stop-color="#ff8a2a"/></linearGradient></defs>
<path d="M6.6 0.3 H9.2 Q10.2 0.3 10.6 1.3 L11.4 4 H8.2 L7.4 1.4 Z" fill="#1745c8"/>
<path d="M3.2 0.3 H7 Q8 0.3 7.6 1.6 L5.6 8.6 Q5.2 9.9 4 9.9 H1.4 Q-0.1 9.9 0.3 8 L1.6 1.8 Q2 0.3 3.2 0.3 Z" fill="url(#cpa2)"/>
<path d="M3.6 9.9 H7 L7.6 12.6 Q7.4 13.6 6.4 13.6 H5.2 Q4.2 13.6 3.9 12.6 Z" fill="#f2542a"/>
<path d="M9.6 4 H12.6 Q14.1 4 13.7 5.9 L12.4 12.1 Q12 13.6 10.8 13.6 H7 Q6 13.6 6.4 12.3 L8.4 5.3 Q8.8 4 9.6 4 Z" fill="url(#cpb2)"/>
</svg>
<div class="t" style="top:366px;font-size:10.65px;line-height:10.65px;color:#1f1f22;letter-spacing:0.320px;transform:scaleX(1.0066);transform-origin:0 0;left:538.3px;-webkit-text-stroke:0.2px currentColor;">m365-copilot</div>
<div class="a" style="left:659.4px;top:361.9px;width:84.5px;height:18.2px;background:#f7f8fa;border-radius:3.5px;"></div>
<div class="t" style="top:367px;font-size:10.65px;line-height:10.65px;color:#1f1f22;letter-spacing:0.078px;left:665.6px;-webkit-text-stroke:0.2px currentColor;">Access Control</div>
<div class="a" style="left:797.1px;top:368.7px;width:4.6px;height:4.6px;background:#c9453a;border-radius:3px;"></div>
<div class="t" style="top:367px;font-size:9.9px;line-height:9.9px;color:#1f1f22;letter-spacing:-0.148px;transform:scaleX(0.9447);transform-origin:0 0;left:806.7px;-webkit-text-stroke:0.2px currentColor;">High</div>
<div class="t" style="top:367px;font-size:11px;line-height:11px;color:#1f1f22;left:847.2px;-webkit-text-stroke:0.2px currentColor;">-</div>
<svg style="left:912.5px;top:361.6px" width="18" height="18" viewBox="-9 -9 18 18"><g transform="translate(0,0.3)"><g transform="rotate(0)"><path d="M-2.5 -0.5 V-6.8 L0.3 -8.8 V-1.9 Z" fill="#25539f"/><path d="M-1.15 -1.6 V-7.4" stroke="#e6edf8" stroke-width="0.5" fill="none"/></g><g transform="rotate(72)"><path d="M-2.5 -0.5 V-6.8 L0.3 -8.8 V-1.9 Z" fill="#25539f"/><path d="M-1.15 -1.6 V-7.4" stroke="#e6edf8" stroke-width="0.5" fill="none"/></g><g transform="rotate(144)"><path d="M-2.5 -0.5 V-6.8 L0.3 -8.8 V-1.9 Z" fill="#25539f"/><path d="M-1.15 -1.6 V-7.4" stroke="#e6edf8" stroke-width="0.5" fill="none"/></g><g transform="rotate(216)"><path d="M-2.5 -0.5 V-6.8 L0.3 -8.8 V-1.9 Z" fill="#25539f"/><path d="M-1.15 -1.6 V-7.4" stroke="#e6edf8" stroke-width="0.5" fill="none"/></g><g transform="rotate(288)"><path d="M-2.5 -0.5 V-6.8 L0.3 -8.8 V-1.9 Z" fill="#25539f"/><path d="M-1.15 -1.6 V-7.4" stroke="#e6edf8" stroke-width="0.5" fill="none"/></g></g></svg>
<div class="t" style="top:367px;font-size:10.65px;line-height:10.65px;color:#1f1f22;letter-spacing:-0.160px;transform:scaleX(0.8877);transform-origin:0 0;left:934.7px;-webkit-text-stroke:0.2px currentColor;">FFIEC</div>
<div class="t" style="top:367px;font-size:10.65px;line-height:10.65px;color:#1f1f22;letter-spacing:-0.160px;transform:scaleX(0.9540);transform-origin:0 0;left:964.8px;-webkit-text-stroke:0.2px currentColor;">+6</div>
<div class="a" style="left:1027.8px;top:365.0px;width:23.3px;height:11.7px;background:#265e97;border-radius:6px;"></div>
<div class="a" style="left:1039.4px;top:367.2px;width:7.3px;height:7.3px;background:#fff;border-radius:4px;"></div>
<div class="a" style="left:77px;top:389px;width:990.4px;height:1px;background:#eceef2;"></div>
<div class="a" style="left:93.1px;top:397.27px;width:47.8px;height:21.6px;background:#daf0db;border-radius:3.5px;"></div>
<svg style="left:100.1px;top:403.07px" width="10" height="10" viewBox="-5 -5 10 10"><circle r="4.9" fill="#7fc79a"/><path d="M-1.9 0.1 L-0.6 1.5 L2 -1.3" stroke="#fff" stroke-width="1.1" fill="none" stroke-linecap="round" stroke-linejoin="round"/></svg>
<div class="t" style="top:403px;font-size:10.65px;line-height:10.65px;color:#1a1a1c;letter-spacing:-0.160px;transform:scaleX(0.9888);transform-origin:0 0;left:113.4px;-webkit-text-stroke:0.3px currentColor;">Pass</div>
<div class="t" style="top:403px;font-size:10.65px;line-height:10.65px;color:#2b77ee;letter-spacing:0.169px;left:175.9px;-webkit-text-stroke:0.33px currentColor;">Identify potentially over shared content</div>
<svg style="left:520.90px;top:398.87px" width="14" height="14" viewBox="0 0 14 14">
<defs><linearGradient id="cpa3" x1="0" y1="0" x2="0" y2="1"><stop offset="0" stop-color="#1d9cf3"/><stop offset="0.5" stop-color="#36b36a"/><stop offset="1" stop-color="#f2c300"/></linearGradient>
<linearGradient id="cpb3" x1="0" y1="0" x2="0" y2="1"><stop offset="0" stop-color="#a64cf0"/><stop offset="0.5" stop-color="#ee5091"/><stop offset="1" stop-color="#ff8a2a"/></linearGradient></defs>
<path d="M6.6 0.3 H9.2 Q10.2 0.3 10.6 1.3 L11.4 4 H8.2 L7.4 1.4 Z" fill="#1745c8"/>
<path d="M3.2 0.3 H7 Q8 0.3 7.6 1.6 L5.6 8.6 Q5.2 9.9 4 9.9 H1.4 Q-0.1 9.9 0.3 8 L1.6 1.8 Q2 0.3 3.2 0.3 Z" fill="url(#cpa3)"/>
<path d="M3.6 9.9 H7 L7.6 12.6 Q7.4 13.6 6.4 13.6 H5.2 Q4.2 13.6 3.9 12.6 Z" fill="#f2542a"/>
<path d="M9.6 4 H12.6 Q14.1 4 13.7 5.9 L12.4 12.1 Q12 13.6 10.8 13.6 H7 Q6 13.6 6.4 12.3 L8.4 5.3 Q8.8 4 9.6 4 Z" fill="url(#cpb3)"/>
</svg>
<div class="t" style="top:402px;font-size:10.65px;line-height:10.65px;color:#1f1f22;letter-spacing:0.320px;transform:scaleX(1.0066);transform-origin:0 0;left:538.3px;-webkit-text-stroke:0.2px currentColor;">m365-copilot</div>
<div class="a" style="left:659.4px;top:399.07px;width:81.1px;height:18.2px;background:#f7f8fa;border-radius:3.5px;"></div>
<div class="t" style="top:405px;font-size:10.65px;line-height:10.65px;color:#1f1f22;letter-spacing:0.083px;left:665.6px;-webkit-text-stroke:0.2px currentColor;">Authentication</div>
<div class="a" style="left:797.1px;top:405.87px;width:4.6px;height:4.6px;background:#c9453a;border-radius:3px;"></div>
<div class="t" style="top:405px;font-size:9.9px;line-height:9.9px;color:#1f1f22;letter-spacing:-0.148px;transform:scaleX(0.9447);transform-origin:0 0;left:806.7px;-webkit-text-stroke:0.2px currentColor;">High</div>
<div class="t" style="top:404px;font-size:11px;line-height:11px;color:#1f1f22;left:847.2px;-webkit-text-stroke:0.2px currentColor;">-</div>
<svg style="left:912.60px;top:401.87px" width="18.4" height="13" viewBox="0 0 18.4 13">
<path d="M1.2 0 H15.4 L18.4 7.6 L15.4 9 L3.6 13 L0 3 Z" fill="#2b6b76"/>
<text x="8.6" y="9.2" font-family="Liberation Sans, sans-serif" font-size="9.4" font-weight="700" fill="#fff" text-anchor="middle" letter-spacing="-0.2">pci</text>
</svg>
<div class="t" style="top:404px;font-size:10.65px;line-height:10.65px;color:#1f1f22;letter-spacing:-0.160px;transform:scaleX(0.9249);transform-origin:0 0;left:934.7px;-webkit-text-stroke:0.2px currentColor;">PCI DSS</div>
<div class="t" style="top:404px;font-size:10.65px;line-height:10.65px;color:#1f1f22;letter-spacing:-0.160px;transform:scaleX(0.9540);transform-origin:0 0;left:976.2px;-webkit-text-stroke:0.2px currentColor;">+6</div>
<div class="a" style="left:1027.8px;top:402.17px;width:23.3px;height:11.7px;background:#265e97;border-radius:6px;"></div>
<div class="a" style="left:1039.4px;top:404.37px;width:7.3px;height:7.3px;background:#fff;border-radius:4px;"></div>
<div class="a" style="left:77px;top:426px;width:990.4px;height:1px;background:#eceef2;"></div>
<div class="a" style="left:93.1px;top:434.44px;width:40.9px;height:21.6px;background:#f3d6d6;border-radius:3.5px;"></div>
<svg style="left:100.1px;top:440.24px" width="10" height="10" viewBox="-5 -5 10 10"><circle r="4.9" fill="#8e1c2c"/><path d="M-1.15 -1.15 L1.15 1.15 M1.15 -1.15 L-1.15 1.15" stroke="#fff" stroke-width="1.15" stroke-linecap="round"/></svg>
<div class="t" style="top:441px;font-size:10.65px;line-height:10.65px;color:#1a1a1c;letter-spacing:-0.160px;transform:scaleX(0.9753);transform-origin:0 0;left:113.3px;-webkit-text-stroke:0.3px currentColor;">Fail</div>
<div class="t" style="top:441px;font-size:10.65px;line-height:10.65px;color:#2b77ee;letter-spacing:0.052px;left:175.8px;-webkit-text-stroke:0.33px currentColor;">Ensure there are no Inactive sites</div>
<svg style="left:520.90px;top:438.94px" width="14" height="14" viewBox="0 0 14 14">
<defs><linearGradient id="cpa4" x1="0" y1="0" x2="0" y2="1"><stop offset="0" stop-color="#1d9cf3"/><stop offset="0.5" stop-color="#36b36a"/><stop offset="1" stop-color="#f2c300"/></linearGradient>
<linearGradient id="cpb4" x1="0" y1="0" x2="0" y2="1"><stop offset="0" stop-color="#a64cf0"/><stop offset="0.5" stop-color="#ee5091"/><stop offset="1" stop-color="#ff8a2a"/></linearGradient></defs>
<path d="M6.6 0.3 H9.2 Q10.2 0.3 10.6 1.3 L11.4 4 H8.2 L7.4 1.4 Z" fill="#1745c8"/>
<path d="M3.2 0.3 H7 Q8 0.3 7.6 1.6 L5.6 8.6 Q5.2 9.9 4 9.9 H1.4 Q-0.1 9.9 0.3 8 L1.6 1.8 Q2 0.3 3.2 0.3 Z" fill="url(#cpa4)"/>
<path d="M3.6 9.9 H7 L7.6 12.6 Q7.4 13.6 6.4 13.6 H5.2 Q4.2 13.6 3.9 12.6 Z" fill="#f2542a"/>
<path d="M9.6 4 H12.6 Q14.1 4 13.7 5.9 L12.4 12.1 Q12 13.6 10.8 13.6 H7 Q6 13.6 6.4 12.3 L8.4 5.3 Q8.8 4 9.6 4 Z" fill="url(#cpb4)"/>
</svg>
<div class="t" style="top:441px;font-size:10.65px;line-height:10.65px;color:#1f1f22;letter-spacing:0.320px;transform:scaleX(1.0066);transform-origin:0 0;left:538.3px;-webkit-text-stroke:0.2px currentColor;">m365-copilot</div>
<div class="a" style="left:659.4px;top:436.24px;width:92.6px;height:18.2px;background:#f7f8fa;border-radius:3.5px;"></div>
<div class="t" style="top:442px;font-size:10.65px;line-height:10.65px;color:#1f1f22;letter-spacing:-0.011px;left:665.6px;-webkit-text-stroke:0.2px currentColor;">Code Review ...</div>
<div class="a" style="left:797.1px;top:443.04px;width:4.6px;height:4.6px;background:#c9453a;border-radius:3px;"></div>
<div class="t" style="top:441px;font-size:9.9px;line-height:9.9px;color:#1f1f22;letter-spacing:-0.148px;transform:scaleX(0.9447);transform-origin:0 0;left:806.7px;-webkit-text-stroke:0.2px currentColor;">High</div>
<div class="t" style="top:441px;font-size:10.65px;line-height:10.65px;color:#1f1f22;letter-spacing:-0.160px;transform:scaleX(0.7970);transform-origin:0 0;left:846.7px;-webkit-text-stroke:0.2px currentColor;">1/1</div>
<svg style="left:912.40px;top:438.24px" width="18.6" height="13" viewBox="0 0 18.6 13" fill="#4ba1e9">
<path d="M5 10.9 Q0.2 10.6 0.2 6.4 Q0.2 2.4 4.4 1.9 Q5.6 1.8 6.2 1.5 Q8.6 -0.2 12.6 0.2 Q10.6 0.8 9.8 1.8 Q11 2 11.4 2.2 Q10 2.6 9.2 3.4 Q6.4 6.6 5 10.9 Z"/>
<path d="M5.6 11.6 Q7 8.6 11.4 8 Q15.4 7.8 16 6.4 Q16 4.6 13.4 4.2 Q11.6 4.2 10.4 5 Q11.4 3.2 14 3.1 Q18.2 3.4 18.4 6.6 Q18.4 9 15.4 10 Q13.6 12.6 10.4 12.9 Q7.4 12.9 5.6 11.6 Z"/>
</svg>
<div class="t" style="top:441px;font-size:10.65px;line-height:10.65px;color:#1f1f22;letter-spacing:-0.007px;left:934.7px;-webkit-text-stroke:0.2px currentColor;">Best Practices</div>
<div class="a" style="left:1027.8px;top:439.34px;width:23.3px;height:11.7px;background:#265e97;border-radius:6px;"></div>
<div class="a" style="left:1039.4px;top:441.54px;width:7.3px;height:7.3px;background:#fff;border-radius:4px;"></div>
<div class="a" style="left:77px;top:463px;width:990.4px;height:1px;background:#eceef2;"></div>
<div class="a" style="left:93.1px;top:471.61px;width:47.8px;height:21.6px;background:#daf0db;border-radius:3.5px;"></div>
<svg style="left:100.1px;top:477.41px" width="10" height="10" viewBox="-5 -5 10 10"><circle r="4.9" fill="#7fc79a"/><path d="M-1.9 0.1 L-0.6 1.5 L2 -1.3" stroke="#fff" stroke-width="1.1" fill="none" stroke-linecap="round" stroke-linejoin="round"/></svg>
<div class="t" style="top:478px;font-size:10.65px;line-height:10.65px;color:#1a1a1c;letter-spacing:-0.160px;transform:scaleX(0.9888);transform-origin:0 0;left:113.4px;-webkit-text-stroke:0.3px currentColor;">Pass</div>
<div class="t" style="top:478px;font-size:10.65px;line-height:10.65px;color:#2b77ee;letter-spacing:0.119px;left:175.8px;-webkit-text-stroke:0.33px currentColor;">Ensure to block download of the Teams meeting recordings</div>
<svg style="left:520.90px;top:477.71px" width="14" height="14" viewBox="0 0 14 14">
<defs><linearGradient id="cpa5" x1="0" y1="0" x2="0" y2="1"><stop offset="0" stop-color="#1d9cf3"/><stop offset="0.5" stop-color="#36b36a"/><stop offset="1" stop-color="#f2c300"/></linearGradient>
<linearGradient id="cpb5" x1="0" y1="0" x2="0" y2="1"><stop offset="0" stop-color="#a64cf0"/><stop offset="0.5" stop-color="#ee5091"/><stop offset="1" stop-color="#ff8a2a"/></linearGradient></defs>
<path d="M6.6 0.3 H9.2 Q10.2 0.3 10.6 1.3 L11.4 4 H8.2 L7.4 1.4 Z" fill="#1745c8"/>
<path d="M3.2 0.3 H7 Q8 0.3 7.6 1.6 L5.6 8.6 Q5.2 9.9 4 9.9 H1.4 Q-0.1 9.9 0.3 8 L1.6 1.8 Q2 0.3 3.2 0.3 Z" fill="url(#cpa5)"/>
<path d="M3.6 9.9 H7 L7.6 12.6 Q7.4 13.6 6.4 13.6 H5.2 Q4.2 13.6 3.9 12.6 Z" fill="#f2542a"/>
<path d="M9.6 4 H12.6 Q14.1 4 13.7 5.9 L12.4 12.1 Q12 13.6 10.8 13.6 H7 Q6 13.6 6.4 12.3 L8.4 5.3 Q8.8 4 9.6 4 Z" fill="url(#cpb5)"/>
</svg>
<div class="t" style="top:480px;font-size:10.65px;line-height:10.65px;color:#1f1f22;letter-spacing:0.320px;transform:scaleX(1.0066);transform-origin:0 0;left:538.3px;-webkit-text-stroke:0.2px currentColor;">m365-copilot</div>
<div class="a" style="left:659.4px;top:473.41px;width:81.1px;height:18.2px;background:#f7f8fa;border-radius:3.5px;"></div>
<div class="t" style="top:479px;font-size:10.65px;line-height:10.65px;color:#1f1f22;letter-spacing:0.083px;left:665.6px;-webkit-text-stroke:0.2px currentColor;">Authentication</div>
<div class="a" style="left:797.1px;top:480.21px;width:4.6px;height:4.6px;background:#c9453a;border-radius:3px;"></div>
<div class="t" style="top:479px;font-size:9.9px;line-height:9.9px;color:#1f1f22;letter-spacing:-0.148px;transform:scaleX(0.9447);transform-origin:0 0;left:806.7px;-webkit-text-stroke:0.2px currentColor;">High</div>
<div class="t" style="top:478px;font-size:11px;line-height:11px;color:#1f1f22;left:847.2px;-webkit-text-stroke:0.2px currentColor;">-</div>
<svg style="left:912.10px;top:472.51px" width="19" height="19" viewBox="-9.5 -9.5 19 19">
<circle r="9.2" fill="#1c3b9c"/><circle cx="0.00" cy="-6.90" r="0.75" fill="#f2d02c"/><circle cx="3.45" cy="-5.98" r="0.75" fill="#f2d02c"/><circle cx="5.98" cy="-3.45" r="0.75" fill="#f2d02c"/><circle cx="6.90" cy="-0.00" r="0.75" fill="#f2d02c"/><circle cx="5.98" cy="3.45" r="0.75" fill="#f2d02c"/><circle cx="3.45" cy="5.98" r="0.75" fill="#f2d02c"/><circle cx="0.00" cy="6.90" r="0.75" fill="#f2d02c"/><circle cx="-3.45" cy="5.98" r="0.75" fill="#f2d02c"/><circle cx="-5.98" cy="3.45" r="0.75" fill="#f2d02c"/><circle cx="-6.90" cy="0.00" r="0.75" fill="#f2d02c"/><circle cx="-5.98" cy="-3.45" r="0.75" fill="#f2d02c"/><circle cx="-3.45" cy="-5.98" r="0.75" fill="#f2d02c"/>
<text x="0" y="1.3" font-family="Liberation Sans, sans-serif" font-size="3.6" font-weight="700" fill="#e6e9f7" text-anchor="middle">GDPR</text>
</svg>
<div class="t" style="top:478px;font-size:10.65px;line-height:10.65px;color:#1f1f22;letter-spacing:-0.160px;transform:scaleX(0.8830);transform-origin:0 0;left:934.7px;-webkit-text-stroke:0.2px currentColor;">GDPR</div>
<div class="t" style="top:478px;font-size:10.65px;line-height:10.65px;color:#1f1f22;letter-spacing:-0.160px;transform:scaleX(0.9540);transform-origin:0 0;left:964.8px;-webkit-text-stroke:0.2px currentColor;">+4</div>
<div class="a" style="left:1027.8px;top:476.51px;width:23.3px;height:11.7px;background:#265e97;border-radius:6px;"></div>
<div class="a" style="left:1039.4px;top:478.71px;width:7.3px;height:7.3px;background:#fff;border-radius:4px;"></div>
<div class="a" style="left:77px;top:500px;width:990.4px;height:1px;background:#eceef2;"></div>
<div class="a" style="left:93.1px;top:508.78px;width:40.9px;height:21.6px;background:#f3d6d6;border-radius:3.5px;"></div>
<svg style="left:100.1px;top:514.58px" width="10" height="10" viewBox="-5 -5 10 10"><circle r="4.9" fill="#8e1c2c"/><path d="M-1.15 -1.15 L1.15 1.15 M1.15 -1.15 L-1.15 1.15" stroke="#fff" stroke-width="1.15" stroke-linecap="round"/></svg>
<div class="t" style="top:515px;font-size:10.65px;line-height:10.65px;color:#1a1a1c;letter-spacing:-0.160px;transform:scaleX(0.9753);transform-origin:0 0;left:113.3px;-webkit-text-stroke:0.3px currentColor;">Fail</div>
<div class="t" style="top:515px;font-size:10.65px;line-height:10.65px;color:#2b77ee;letter-spacing:0.102px;left:175.8px;-webkit-text-stroke:0.33px currentColor;">Ensure user authentication is configured in Copilot Studio</div>
<svg style="left:519.85px;top:512.48px" width="15.3" height="14.40" viewBox="0 0 15.3 14.4">
<rect x="0" y="9.4" width="5" height="3.4" rx="0.6" fill="#0f7c95"/>
<rect x="8.4" y="2" width="6.9" height="7" rx="0.7" fill="#0a83cd"/>
<rect x="4.1" y="9.2" width="7.5" height="5" rx="0.7" fill="#0a4fb0"/>
<rect x="7.6" y="5.2" width="4" height="5" fill="#0b62c0"/>
<rect x="0" y="5.8" width="7.8" height="4.2" rx="0.6" fill="#22c2e6"/>
<rect x="4.1" y="4.6" width="3.8" height="2.2" fill="#1493a8"/>
<path d="M4.1 0.9 L11 0.2 Q11.6 0.2 11.6 0.9 V4.6 H4.1 Z" fill="#5fe6e0"/>
</svg>
<div class="t" style="top:515px;font-size:10.65px;line-height:10.65px;color:#1f1f22;letter-spacing:0.082px;left:537.8px;-webkit-text-stroke:0.2px currentColor;">Copilot Studio</div>
<div class="a" style="left:659.4px;top:510.58px;width:63.3px;height:18.2px;background:#f7f8fa;border-radius:3.5px;"></div>
<div class="t" style="top:516px;font-size:10.65px;line-height:10.65px;color:#1f1f22;letter-spacing:0.072px;left:665.6px;-webkit-text-stroke:0.2px currentColor;">Encryption</div>
<div class="a" style="left:797.1px;top:517.38px;width:4.6px;height:4.6px;background:#c9453a;border-radius:3px;"></div>
<div class="t" style="top:516px;font-size:9.9px;line-height:9.9px;color:#1f1f22;letter-spacing:-0.148px;transform:scaleX(0.9447);transform-origin:0 0;left:806.7px;-webkit-text-stroke:0.2px currentColor;">High</div>
<div class="t" style="top:516px;font-size:11px;line-height:11px;color:#1f1f22;left:847.2px;-webkit-text-stroke:0.2px currentColor;">-</div>
<svg style="left:912.10px;top:509.68px" width="19" height="19" viewBox="-9.5 -9.5 19 19">
<circle r="9.2" fill="#1c3b9c"/><circle cx="0.00" cy="-6.90" r="0.75" fill="#f2d02c"/><circle cx="3.45" cy="-5.98" r="0.75" fill="#f2d02c"/><circle cx="5.98" cy="-3.45" r="0.75" fill="#f2d02c"/><circle cx="6.90" cy="-0.00" r="0.75" fill="#f2d02c"/><circle cx="5.98" cy="3.45" r="0.75" fill="#f2d02c"/><circle cx="3.45" cy="5.98" r="0.75" fill="#f2d02c"/><circle cx="0.00" cy="6.90" r="0.75" fill="#f2d02c"/><circle cx="-3.45" cy="5.98" r="0.75" fill="#f2d02c"/><circle cx="-5.98" cy="3.45" r="0.75" fill="#f2d02c"/><circle cx="-6.90" cy="0.00" r="0.75" fill="#f2d02c"/><circle cx="-5.98" cy="-3.45" r="0.75" fill="#f2d02c"/><circle cx="-3.45" cy="-5.98" r="0.75" fill="#f2d02c"/>
<text x="0" y="1.3" font-family="Liberation Sans, sans-serif" font-size="3.6" font-weight="700" fill="#e6e9f7" text-anchor="middle">GDPR</text>
</svg>
<div class="t" style="top:515px;font-size:10.65px;line-height:10.65px;color:#1f1f22;letter-spacing:-0.160px;transform:scaleX(0.8830);transform-origin:0 0;left:934.7px;-webkit-text-stroke:0.2px currentColor;">GDPR</div>
<div class="t" style="top:515px;font-size:10.65px;line-height:10.65px;color:#1f1f22;letter-spacing:-0.160px;transform:scaleX(0.9540);transform-origin:0 0;left:964.8px;-webkit-text-stroke:0.2px currentColor;">+8</div>
<div class="a" style="left:1027.8px;top:513.68px;width:23.3px;height:11.7px;background:#265e97;border-radius:6px;"></div>
<div class="a" style="left:1039.4px;top:515.88px;width:7.3px;height:7.3px;background:#fff;border-radius:4px;"></div>
<div class="a" style="left:77px;top:537px;width:990.4px;height:1px;background:#eceef2;"></div>
<div class="a" style="left:93.1px;top:545.95px;width:47.8px;height:21.6px;background:#daf0db;border-radius:3.5px;"></div>
<svg style="left:100.1px;top:551.75px" width="10" height="10" viewBox="-5 -5 10 10"><circle r="4.9" fill="#7fc79a"/><path d="M-1.9 0.1 L-0.6 1.5 L2 -1.3" stroke="#fff" stroke-width="1.1" fill="none" stroke-linecap="round" stroke-linejoin="round"/></svg>
<div class="t" style="top:553px;font-size:10.65px;line-height:10.65px;color:#1a1a1c;letter-spacing:-0.160px;transform:scaleX(0.9888);transform-origin:0 0;left:113.4px;-webkit-text-stroke:0.3px currentColor;">Pass</div>
<div class="t" style="top:553px;font-size:10.65px;line-height:10.65px;color:#2b77ee;letter-spacing:-0.073px;left:175.8px;-webkit-text-stroke:0.33px currentColor;">Ensure to Set Strong Password</div>
<svg style="left:520.2px;top:549.55px" width="14" height="14" viewBox="-7 -7 14 14" fill="none" stroke="#111" stroke-width="1.1" stroke-linecap="round"><g transform="rotate(15)"><path d="M2.6 -0.2 H6.4 M2.6 -0.2 L4.4 -2.4" /></g><g transform="rotate(75)"><path d="M2.6 -0.2 H6.4 M2.6 -0.2 L4.4 -2.4" /></g><g transform="rotate(135)"><path d="M2.6 -0.2 H6.4 M2.6 -0.2 L4.4 -2.4" /></g><g transform="rotate(195)"><path d="M2.6 -0.2 H6.4 M2.6 -0.2 L4.4 -2.4" /></g><g transform="rotate(255)"><path d="M2.6 -0.2 H6.4 M2.6 -0.2 L4.4 -2.4" /></g><g transform="rotate(315)"><path d="M2.6 -0.2 H6.4 M2.6 -0.2 L4.4 -2.4" /></g></svg>
<div class="t" style="top:553px;font-size:10.65px;line-height:10.65px;color:#1f1f22;letter-spacing:0.320px;transform:scaleX(1.0099);transform-origin:0 0;left:536.8px;-webkit-text-stroke:0.2px currentColor;">ShareFile-HQ-...</div>
<div class="a" style="left:659.4px;top:547.75px;width:81.1px;height:18.2px;background:#f7f8fa;border-radius:3.5px;"></div>
<div class="t" style="top:553px;font-size:10.65px;line-height:10.65px;color:#1f1f22;letter-spacing:0.083px;left:665.6px;-webkit-text-stroke:0.2px currentColor;">Authentication</div>
<div class="a" style="left:797.1px;top:554.55px;width:4.6px;height:4.6px;background:#c9453a;border-radius:3px;"></div>
<div class="t" style="top:553px;font-size:9.9px;line-height:9.9px;color:#1f1f22;letter-spacing:-0.148px;transform:scaleX(0.9447);transform-origin:0 0;left:806.7px;-webkit-text-stroke:0.2px currentColor;">High</div>
<div class="t" style="top:553px;font-size:11px;line-height:11px;color:#1f1f22;left:847.2px;-webkit-text-stroke:0.2px currentColor;">-</div>
<svg style="left:912.10px;top:546.85px" width="19" height="19" viewBox="-9.5 -9.5 19 19">
<circle r="9.2" fill="#1c3b9c"/><circle cx="0.00" cy="-6.90" r="0.75" fill="#f2d02c"/><circle cx="3.45" cy="-5.98" r="0.75" fill="#f2d02c"/><circle cx="5.98" cy="-3.45" r="0.75" fill="#f2d02c"/><circle cx="6.90" cy="-0.00" r="0.75" fill="#f2d02c"/><circle cx="5.98" cy="3.45" r="0.75" fill="#f2d02c"/><circle cx="3.45" cy="5.98" r="0.75" fill="#f2d02c"/><circle cx="0.00" cy="6.90" r="0.75" fill="#f2d02c"/><circle cx="-3.45" cy="5.98" r="0.75" fill="#f2d02c"/><circle cx="-5.98" cy="3.45" r="0.75" fill="#f2d02c"/><circle cx="-6.90" cy="0.00" r="0.75" fill="#f2d02c"/><circle cx="-5.98" cy="-3.45" r="0.75" fill="#f2d02c"/><circle cx="-3.45" cy="-5.98" r="0.75" fill="#f2d02c"/>
<text x="0" y="1.3" font-family="Liberation Sans, sans-serif" font-size="3.6" font-weight="700" fill="#e6e9f7" text-anchor="middle">GDPR</text>
</svg>
<div class="t" style="top:553px;font-size:10.65px;line-height:10.65px;color:#1f1f22;letter-spacing:-0.160px;transform:scaleX(0.8699);transform-origin:0 0;left:934.7px;-webkit-text-stroke:0.2px currentColor;">GDPR</div>
<div class="t" style="top:553px;font-size:10.65px;line-height:10.65px;color:#1f1f22;letter-spacing:-0.160px;transform:scaleX(0.9540);transform-origin:0 0;left:964.4px;-webkit-text-stroke:0.2px currentColor;">+7</div>
<div class="a" style="left:1027.8px;top:550.85px;width:23.3px;height:11.7px;background:#265e97;border-radius:6px;"></div>
<div class="a" style="left:1039.4px;top:553.05px;width:7.3px;height:7.3px;background:#fff;border-radius:4px;"></div>
<div class="a" style="left:77px;top:574px;width:990.4px;height:1px;background:#eceef2;"></div>
<div class="a" style="left:93.1px;top:583.12px;width:40.9px;height:21.6px;background:#f3d6d6;border-radius:3.5px;"></div>
<svg style="left:100.1px;top:588.92px" width="10" height="10" viewBox="-5 -5 10 10"><circle r="4.9" fill="#8e1c2c"/><path d="M-1.15 -1.15 L1.15 1.15 M1.15 -1.15 L-1.15 1.15" stroke="#fff" stroke-width="1.15" stroke-linecap="round"/></svg>
<div class="t" style="top:590px;font-size:10.65px;line-height:10.65px;color:#1a1a1c;letter-spacing:-0.160px;transform:scaleX(0.9753);transform-origin:0 0;left:113.3px;-webkit-text-stroke:0.3px currentColor;">Fail</div>
<div class="t" style="top:590px;font-size:10.65px;line-height:10.65px;color:#2b77ee;left:175.8px;-webkit-text-stroke:0.33px currentColor;">Ensure That Default Access for Shared Links Is Given to Team Mem...</div>
<svg style="left:521.04px;top:587.75px" width="12.31" height="11.74" viewBox="0 0 10.8 10.3" fill="#1f6fe0">
<path d="M2.7 0 L5.4 1.8 L2.7 3.6 L0 1.8 Z M8.1 0 L10.8 1.8 L8.1 3.6 L5.4 1.8 Z M2.7 3.6 L5.4 5.4 L2.7 7.2 L0 5.4 Z M8.1 3.6 L10.8 5.4 L8.1 7.2 L5.4 5.4 Z M5.4 6.3 L8.1 8.1 L5.4 9.9 L2.7 8.1 Z" stroke="#1f6fe0" stroke-width="0.5" stroke-linejoin="round"/>
</svg>
<div class="t" style="top:590px;font-size:10.65px;line-height:10.65px;color:#1f1f22;letter-spacing:0.320px;transform:scaleX(1.0442);transform-origin:0 0;left:536.8px;-webkit-text-stroke:0.2px currentColor;">vjo-dropbox</div>
<div class="a" style="left:659.4px;top:584.92px;width:84.5px;height:18.2px;background:#f7f8fa;border-radius:3.5px;"></div>
<div class="t" style="top:590px;font-size:10.65px;line-height:10.65px;color:#1f1f22;letter-spacing:0.078px;left:665.6px;-webkit-text-stroke:0.2px currentColor;">Access Control</div>
<div class="a" style="left:797.1px;top:591.72px;width:4.6px;height:4.6px;background:#c9453a;border-radius:3px;"></div>
<div class="t" style="top:590px;font-size:9.9px;line-height:9.9px;color:#1f1f22;letter-spacing:-0.148px;transform:scaleX(0.9447);transform-origin:0 0;left:806.7px;-webkit-text-stroke:0.2px currentColor;">High</div>
<div class="t" style="top:590px;font-size:11px;line-height:11px;color:#1f1f22;left:847.2px;-webkit-text-stroke:0.2px currentColor;">-</div>
<svg style="left:912.5px;top:584.62px" width="18" height="18" viewBox="-9 -9 18 18"><g transform="translate(0,0.3)"><g transform="rotate(0)"><path d="M-2.5 -0.5 V-6.8 L0.3 -8.8 V-1.9 Z" fill="#25539f"/><path d="M-1.15 -1.6 V-7.4" stroke="#e6edf8" stroke-width="0.5" fill="none"/></g><g transform="rotate(72)"><path d="M-2.5 -0.5 V-6.8 L0.3 -8.8 V-1.9 Z" fill="#25539f"/><path d="M-1.15 -1.6 V-7.4" stroke="#e6edf8" stroke-width="0.5" fill="none"/></g><g transform="rotate(144)"><path d="M-2.5 -0.5 V-6.8 L0.3 -8.8 V-1.9 Z" fill="#25539f"/><path d="M-1.15 -1.6 V-7.4" stroke="#e6edf8" stroke-width="0.5" fill="none"/></g><g transform="rotate(216)"><path d="M-2.5 -0.5 V-6.8 L0.3 -8.8 V-1.9 Z" fill="#25539f"/><path d="M-1.15 -1.6 V-7.4" stroke="#e6edf8" stroke-width="0.5" fill="none"/></g><g transform="rotate(288)"><path d="M-2.5 -0.5 V-6.8 L0.3 -8.8 V-1.9 Z" fill="#25539f"/><path d="M-1.15 -1.6 V-7.4" stroke="#e6edf8" stroke-width="0.5" fill="none"/></g></g></svg>
<div class="t" style="top:590px;font-size:10.65px;line-height:10.65px;color:#1f1f22;letter-spacing:-0.160px;transform:scaleX(0.8877);transform-origin:0 0;left:934.7px;-webkit-text-stroke:0.2px currentColor;">FFIEC</div>
<div class="t" style="top:590px;font-size:10.65px;line-height:10.65px;color:#1f1f22;letter-spacing:-0.160px;transform:scaleX(0.9540);transform-origin:0 0;left:964.8px;-webkit-text-stroke:0.2px currentColor;">+6</div>
<div class="a" style="left:1027.8px;top:588.02px;width:23.3px;height:11.7px;background:#265e97;border-radius:6px;"></div>
<div class="a" style="left:1039.4px;top:590.22px;width:7.3px;height:7.3px;background:#fff;border-radius:4px;"></div>
<div class="a" style="left:77px;top:612px;width:990.4px;height:1px;background:#eceef2;"></div>
<div class="a" style="left:93.1px;top:620.29px;width:40.9px;height:21.6px;background:#f3d6d6;border-radius:3.5px;"></div>
<svg style="left:100.1px;top:626.09px" width="10" height="10" viewBox="-5 -5 10 10"><circle r="4.9" fill="#8e1c2c"/><path d="M-1.15 -1.15 L1.15 1.15 M1.15 -1.15 L-1.15 1.15" stroke="#fff" stroke-width="1.15" stroke-linecap="round"/></svg>
<div class="t" style="top:627px;font-size:10.65px;line-height:10.65px;color:#1a1a1c;letter-spacing:-0.160px;transform:scaleX(0.9753);transform-origin:0 0;left:113.3px;-webkit-text-stroke:0.3px currentColor;">Fail</div>
<div class="t" style="top:627px;font-size:10.65px;line-height:10.65px;color:#2b77ee;letter-spacing:-0.040px;left:175.8px;-webkit-text-stroke:0.33px currentColor;">Ensure CORS Allowlist Configuration</div>
<svg style="left:521.50px;top:627.39px" width="11.6" height="8.2" viewBox="0 0 11.6 8.2" fill="#3a97e6">
<circle cx="3.2" cy="3" r="2.7"/><circle cx="6.4" cy="2.8" r="2.5"/><circle cx="9" cy="4" r="2.6"/><circle cx="2.6" cy="5" r="2.4"/><circle cx="5" cy="5.6" r="2.6"/><circle cx="7.4" cy="5" r="2.4"/>
<rect x="2" y="3.6" width="7" height="1.2" fill="#6db3ee"/>
</svg>
<div class="t" style="top:627px;font-size:10.65px;line-height:10.65px;color:#1f1f22;letter-spacing:0.320px;transform:scaleX(1.0351);transform-origin:0 0;left:536.8px;-webkit-text-stroke:0.2px currentColor;">salesforce-npaul</div>
<div class="a" style="left:659.4px;top:622.09px;width:81.1px;height:18.2px;background:#f7f8fa;border-radius:3.5px;"></div>
<div class="t" style="top:628px;font-size:10.65px;line-height:10.65px;color:#1f1f22;letter-spacing:0.083px;left:665.6px;-webkit-text-stroke:0.2px currentColor;">Authentication</div>
<div class="a" style="left:797.1px;top:628.89px;width:4.6px;height:4.6px;background:#c9453a;border-radius:3px;"></div>
<div class="t" style="top:627px;font-size:9.9px;line-height:9.9px;color:#1f1f22;letter-spacing:-0.148px;transform:scaleX(0.9447);transform-origin:0 0;left:806.7px;-webkit-text-stroke:0.2px currentColor;">High</div>
<div class="t" style="top:627px;font-size:11px;line-height:11px;color:#1f1f22;left:847.2px;-webkit-text-stroke:0.2px currentColor;">-</div>
<svg style="left:912.40px;top:624.09px" width="18.6" height="13" viewBox="0 0 18.6 13" fill="#4ba1e9">
<path d="M5 10.9 Q0.2 10.6 0.2 6.4 Q0.2 2.4 4.4 1.9 Q5.6 1.8 6.2 1.5 Q8.6 -0.2 12.6 0.2 Q10.6 0.8 9.8 1.8 Q11 2 11.4 2.2 Q10 2.6 9.2 3.4 Q6.4 6.6 5 10.9 Z"/>
<path d="M5.6 11.6 Q7 8.6 11.4 8 Q15.4 7.8 16 6.4 Q16 4.6 13.4 4.2 Q11.6 4.2 10.4 5 Q11.4 3.2 14 3.1 Q18.2 3.4 18.4 6.6 Q18.4 9 15.4 10 Q13.6 12.6 10.4 12.9 Q7.4 12.9 5.6 11.6 Z"/>
</svg>
<div class="t" style="top:627px;font-size:10.65px;line-height:10.65px;color:#1f1f22;letter-spacing:-0.007px;left:934.7px;-webkit-text-stroke:0.2px currentColor;">Best Practices</div>
<div class="a" style="left:1027.8px;top:625.19px;width:23.3px;height:11.7px;background:#265e97;border-radius:6px;"></div>
<div class="a" style="left:1039.4px;top:627.39px;width:7.3px;height:7.3px;background:#fff;border-radius:4px;"></div>
<div class="t" style="top:661px;font-size:9.9px;line-height:9.9px;color:#33353d;letter-spacing:0.066px;left:76.8px;-webkit-text-stroke:0.25px currentColor;">Showing 1-8 out of 440 records</div>
<div class="t" style="top:661px;font-size:9.9px;line-height:9.9px;color:#33353d;letter-spacing:-0.148px;transform:scaleX(0.9950);transform-origin:0 0;left:821.8px;-webkit-text-stroke:0.25px currentColor;">Page 1 out of 55</div>
<svg style="left:908px;top:658px" width="120" height="14" viewBox="908 658 120 14" fill="none" stroke-width="1.15" stroke-linecap="round" stroke-linejoin="round">
<path d="M914.8 662 L912.4 664.8 L914.8 667.6 M918.2 662 L915.8 664.8 L918.2 667.6" stroke="#b4b6c4"/>
<path d="M931.6 662 L929.2 664.8 L931.6 667.6" stroke="#b4b6c4"/>
<path d="M1002.6 662 L1005 664.8 L1002.6 667.6" stroke="#3a3c48"/>
<path d="M1016.4 662 L1018.8 664.8 L1016.4 667.6 M1019.8 662 L1022.2 664.8 L1019.8 667.6" stroke="#3a3c48"/>
</svg>
<div class="t" style="top:661px;font-size:9.9px;line-height:9.9px;color:#1f1f22;left:743.7px;width:400px;text-align:center;text-decoration:underline;text-underline-offset:1px;-webkit-text-stroke:0.2px currentColor;">1</div>
<div class="t" style="top:661px;font-size:9.9px;line-height:9.9px;color:#858796;left:754.6px;width:400px;text-align:center;-webkit-text-stroke:0.2px currentColor;">2</div>
<div class="t" style="top:661px;font-size:9.9px;line-height:9.9px;color:#858796;left:766.6px;width:400px;text-align:center;-webkit-text-stroke:0.2px currentColor;">3</div>
<div class="t" style="top:661px;font-size:9.9px;line-height:9.9px;color:#858796;left:778.5px;width:400px;text-align:center;-webkit-text-stroke:0.2px currentColor;">4</div>
<div class="t" style="top:661px;font-size:9.9px;line-height:9.9px;color:#858796;left:790.4px;width:400px;text-align:center;-webkit-text-stroke:0.2px currentColor;">5</div>
</body></html>
